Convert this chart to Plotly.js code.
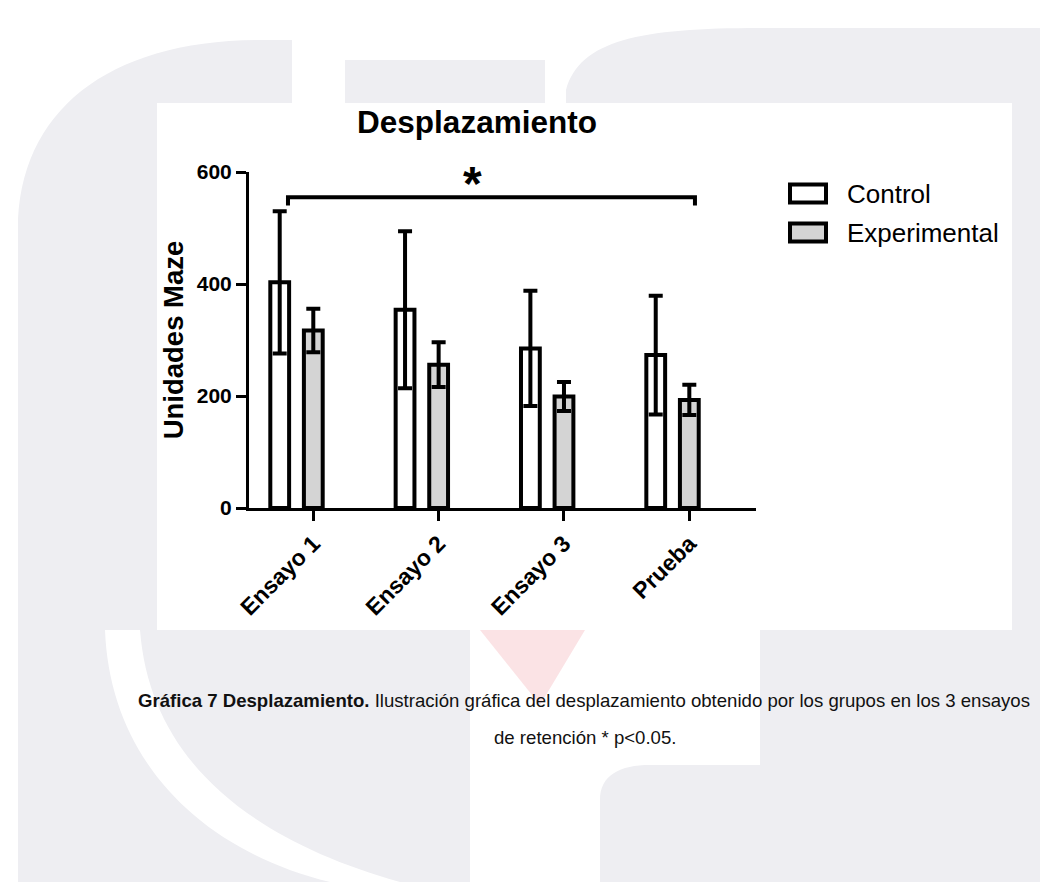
<!DOCTYPE html>
<html>
<head>
<meta charset="utf-8">
<script src="https://cdn.plot.ly/plotly-3.0.1.min.js"></script>
<style>
  html, body { margin: 0; padding: 0; background: #ffffff; }
  #chart { width: 1040px; height: 882px; }
</style>
</head>
<body>
<div id="chart"></div>
<script>
// ---- data ----
const categories = ['Ensayo 1', 'Ensayo 2', 'Ensayo 3', 'Prueba'];
const controlMean = [403, 354, 285, 273];
const controlErr = [127, 140, 103, 106];
const expMean = [317, 256, 199, 193];
const expErr = [39, 40, 26, 27];
const yTicks = [0, 200, 400, 600];
const seriesNames = ['Control', 'Experimental'];
const sigLabel = '*';

// ---- layout helpers (pixel -> paper) ----
const L = 249, R = 756, T = 172, B = 508;
function px(x) { return (x - L) / (R - L); }
function py(y) { return (B - y) / (B - T); }
function path(pts) {
  return pts.map((p, i) => (i === 0 ? 'M' : 'L') + px(p[0]) + ',' + py(p[1])).join(' ') + ' Z';
}

const idx = categories.map((c, i) => i);
const FONT = 'Liberation Sans, Arial, Helvetica, sans-serif';
const GRAY = '#eeeef2';

const traces = [
  {
    type: 'bar', name: seriesNames[0], x: idx, y: controlMean,
    width: 0.15, offset: -0.343,
    marker: { color: '#ffffff', line: { color: '#000000', width: 4 } },
    error_y: { type: 'data', array: controlErr, visible: true, color: '#000000', thickness: 4, width: 7 },
    showlegend: false, hoverinfo: 'skip'
  },
  {
    type: 'bar', name: seriesNames[1], x: idx, y: expMean,
    width: 0.15, offset: -0.075,
    marker: { color: '#d4d4d4', line: { color: '#000000', width: 4 } },
    error_y: { type: 'data', array: expErr, visible: true, color: '#000000', thickness: 4, width: 7 },
    showlegend: false, hoverinfo: 'skip'
  }
];

const shapes = [
  // watermark background
  { type: 'path', xref: 'paper', yref: 'paper', layer: 'below', fillcolor: GRAY, line: { width: 0 },
    path: 'M' + px(18) + ',' + py(882) + ' L' + px(18) + ',' + py(230) +
          ' C' + px(18) + ',' + py(110) + ' ' + px(110) + ',' + py(40) + ' ' + px(260) + ',' + py(40) +
          ' L' + px(292) + ',' + py(40) + ' L' + px(292) + ',' + py(103) + ' L' + px(157) + ',' + py(103) +
          ' L' + px(157) + ',' + py(630) + ' L' + px(470) + ',' + py(630) + ' L' + px(470) + ',' + py(882) + ' Z' },
  { type: 'path', xref: 'paper', yref: 'paper', layer: 'below', fillcolor: GRAY, line: { width: 0 },
    path: path([[345, 103], [345, 60], [545, 60], [545, 103]]) },
  { type: 'path', xref: 'paper', yref: 'paper', layer: 'below', fillcolor: GRAY, line: { width: 0 },
    path: 'M' + px(566) + ',' + py(103) + ' L' + px(566) + ',' + py(90) +
          ' C' + px(580) + ',' + py(40) + ' ' + px(640) + ',' + py(28) + ' ' + px(760) + ',' + py(28) +
          ' L' + px(1040) + ',' + py(28) + ' L' + px(1040) + ',' + py(882) + ' L' + px(600) + ',' + py(882) +
          ' L' + px(600) + ',' + py(800) + ' C' + px(600) + ',' + py(775) + ' ' + px(620) + ',' + py(765) + ' ' + px(650) + ',' + py(765) +
          ' L' + px(760) + ',' + py(765) + ' L' + px(760) + ',' + py(630) + ' L' + px(1012) + ',' + py(630) +
          ' L' + px(1012) + ',' + py(103) + ' Z' },
  { type: 'path', xref: 'paper', yref: 'paper', layer: 'below', fillcolor: '#ffffff', line: { width: 0 },
    path: 'M' + px(105) + ',' + py(630) + ' C' + px(110) + ',' + py(760) + ' ' + px(200) + ',' + py(850) + ' ' + px(330) + ',' + py(882) +
          ' L' + px(400) + ',' + py(882) + ' C' + px(250) + ',' + py(840) + ' ' + px(150) + ',' + py(760) + ' ' + px(140) + ',' + py(630) + ' Z' },
  { type: 'path', xref: 'paper', yref: 'paper', layer: 'below', fillcolor: '#fbe3e5', line: { width: 0 },
    path: path([[480, 630], [585, 630], [540, 705]]) },
  // white chart panel
  { type: 'rect', xref: 'paper', yref: 'paper', layer: 'below', fillcolor: '#ffffff', line: { width: 0 },
    x0: px(157), x1: px(1012), y0: py(630), y1: py(103) },
  // significance bracket
  { type: 'path', xref: 'x', yref: 'y', line: { color: '#000000', width: 4 },
    path: 'M-0.202,540 L-0.202,555 L3.045,555 L3.045,540' },
  // legend boxes
  { type: 'rect', xref: 'paper', yref: 'paper', fillcolor: '#ffffff', line: { color: '#000000', width: 4 },
    x0: px(790), x1: px(826), y0: py(202.5), y1: py(184.5) },
  { type: 'rect', xref: 'paper', yref: 'paper', fillcolor: '#d4d4d4', line: { color: '#000000', width: 4 },
    x0: px(790), x1: px(826), y0: py(241.5), y1: py(223.5) }
];

const annotations = [
  { x: 1.274, y: 555, xref: 'x', yref: 'y', text: sigLabel, showarrow: false,
    xanchor: 'center', yanchor: 'bottom', yshift: -15,
    font: { family: FONT, size: 48, weight: 'bold', color: '#000000' } },
  { x: px(845), y: py(193.5), xref: 'paper', yref: 'paper', text: seriesNames[0], showarrow: false,
    xanchor: 'left', yanchor: 'middle', font: { family: FONT, size: 26, color: '#000000' } },
  { x: px(845), y: py(232.5), xref: 'paper', yref: 'paper', text: seriesNames[1], showarrow: false,
    xanchor: 'left', yanchor: 'middle', font: { family: FONT, size: 26, color: '#000000' } },
  { x: px(584), y: py(700), xref: 'paper', yref: 'paper', showarrow: false,
    xanchor: 'center', yanchor: 'middle',
    text: '<b>Gráfica 7 Desplazamiento.</b> Ilustración gráfica del desplazamiento obtenido por los grupos en los 3 ensayos',
    font: { family: FONT, size: 18.6, color: '#111111' } },
  { x: px(585), y: py(737), xref: 'paper', yref: 'paper', showarrow: false,
    xanchor: 'center', yanchor: 'middle',
    text: 'de retención * p&lt;0.05.',
    font: { family: FONT, size: 18.6, color: '#111111' } }
];

const layout = {
  width: 1040, height: 882, autosize: false,
  margin: { l: L, r: 1040 - R, t: T, b: 882 - B, pad: 0 },
  paper_bgcolor: '#ffffff', plot_bgcolor: 'rgba(0,0,0,0)',
  barmode: 'overlay',
  font: { family: FONT, color: '#000000' },
  title: { text: 'Desplazamiento', x: 477 / 1040, xanchor: 'center', y: 1 - 122 / 882, yanchor: 'middle',
           font: { family: FONT, size: 31.5, weight: 'bold', color: '#000000' } },
  xaxis: {
    range: [-0.513, 3.532], tickvals: idx, ticktext: categories, tickangle: -45,
    ticks: 'outside', ticklen: 10, tickwidth: 3, tickcolor: '#000000',
    showline: true, linewidth: 3, linecolor: '#000000', showgrid: false, zeroline: false,
    tickfont: { family: FONT, size: 23, weight: 'bold', color: '#000000' }, fixedrange: true
  },
  yaxis: {
    range: [0, 600], tickvals: yTicks, ticktext: yTicks.map(String),
    ticks: 'outside', ticklen: 10, tickwidth: 3, tickcolor: '#000000',
    showline: true, linewidth: 3, linecolor: '#000000', showgrid: false, zeroline: false,
    tickfont: { family: FONT, size: 21, weight: 'bold', color: '#000000' },
    title: { text: 'Unidades Maze', standoff: 6, font: { family: FONT, size: 27.5, weight: 'bold', color: '#000000' } },
    fixedrange: true
  },
  shapes: shapes,
  annotations: annotations,
  showlegend: false
};

Plotly.newPlot('chart', traces, layout, { staticPlot: true, displayModeBar: false });
</script>
</body>
</html>
